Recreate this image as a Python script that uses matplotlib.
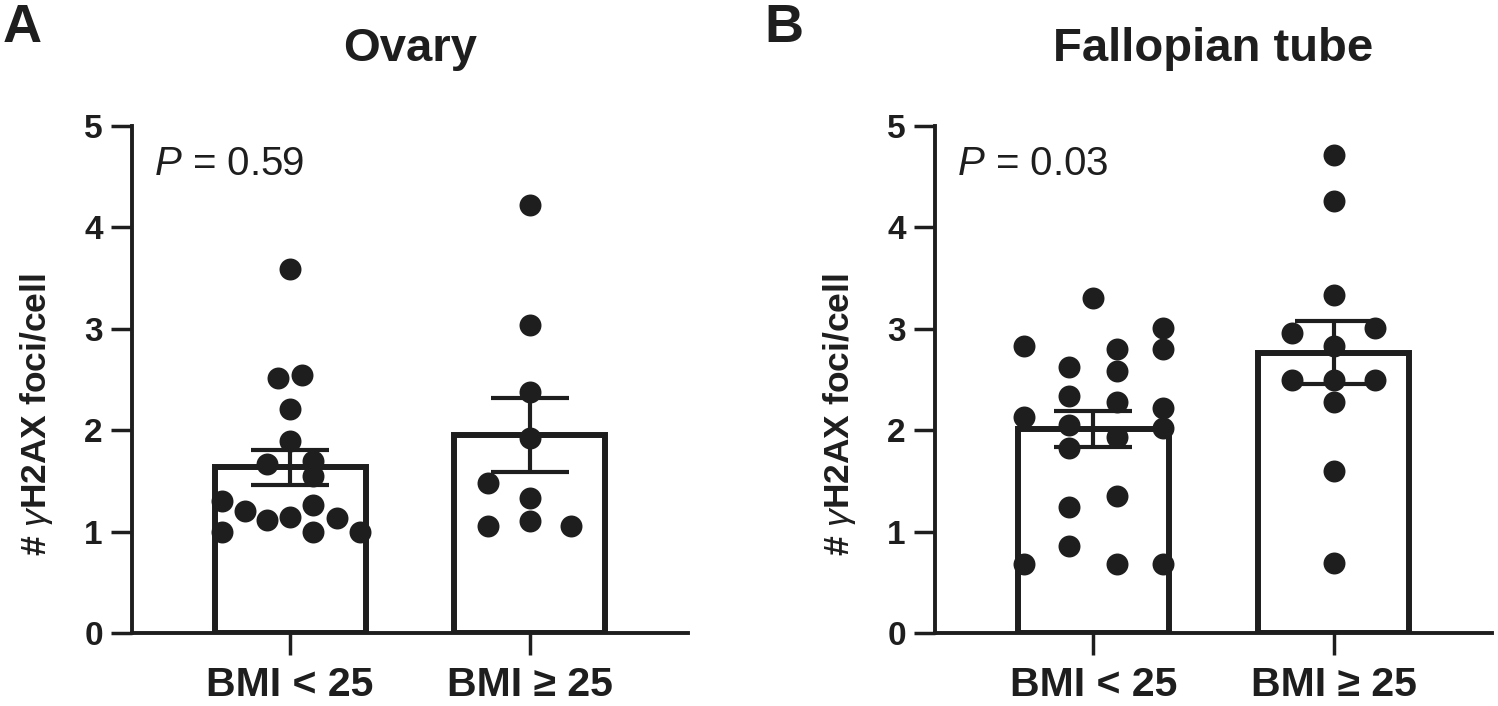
import numpy as np
import matplotlib
matplotlib.use("Agg")
import matplotlib.pyplot as plt
from matplotlib import transforms

plt.rcParams['font.family'] = ['Liberation Sans', 'DejaVu Sans']
plt.rcParams['mathtext.fontset'] = 'custom'
plt.rcParams['mathtext.rm'] = 'Liberation Sans'
plt.rcParams['mathtext.it'] = 'Liberation Sans:italic'
plt.rcParams['mathtext.bf'] = 'Liberation Sans:bold'

# ---------------- data ----------------
categories = ["BMI < 25", "BMI \u2265 25"]
titles = ["Ovary", "Fallopian tube"]
panel_letters = ["A", "B"]
p_values = ["0.59", "0.03"]
y_ticks = [0, 1, 2, 3, 4, 5]
y_label = r"# $\gamma$H2AX foci/cell"

ovary_low = [3.59, 2.51, 2.54, 2.21, 1.89, 1.67, 1.70, 1.55, 1.26,
             1.30, 1.20, 1.11, 1.14, 1.00, 1.13, 1.00, 1.00]
ovary_high = [4.22, 3.04, 2.38, 1.92, 1.48, 1.33, 1.06, 1.10, 1.06]
tube_low = [3.30, 2.83, 2.62, 2.34, 2.05, 1.82, 2.80, 2.58, 2.28, 1.93,
            3.01, 2.80, 2.22, 2.02, 2.13, 1.24, 0.86, 1.35, 0.68, 0.68, 0.68]
tube_high = [4.71, 4.26, 3.33, 2.96, 3.01, 2.83, 2.50, 2.50, 2.50, 2.28, 1.60, 0.69]

# horizontal scatter offsets (fraction of category spacing)
ovary_low_dx = [0, -0.05, 0.05, 0, 0, -0.096, 0.096, 0.096, 0.096,
                -0.283, -0.188, -0.096, 0, 0.096, 0.196, -0.283, 0.29]
ovary_high_dx = [0, 0, 0, 0, -0.175, 0, -0.175, 0, 0.17]
tube_low_dx = [0, -0.288, -0.1, -0.1, -0.1, -0.1, 0.096, 0.096, 0.096, 0.096,
               0.289, 0.289, 0.289, 0.289, -0.288, -0.1, -0.1, 0.096,
               -0.288, 0.096, 0.289]
tube_high_dx = [0, 0, 0, -0.172, 0.172, 0, -0.172, 0, 0.172, 0, 0, 0]

panels = [
    (ovary_low, ovary_high, ovary_low_dx, ovary_high_dx),
    (tube_low, tube_high, tube_low_dx, tube_high_dx),
]

# ---------------- style ----------------
INK = '#1e1e1e'
W, H = 1498, 706
fig = plt.figure(figsize=(W / 100, H / 100), dpi=100)
axes = [
    fig.add_axes([132 / W, 73 / H, 556 / W, 507 / H]),
    fig.add_axes([935 / W, 73 / H, 557 / W, 507 / H]),
]
letter_x = [3 / W, 764 / W]

for i, ax in enumerate(axes):
    low, high, dlow, dhigh = panels[i]
    groups = [np.array(low), np.array(high)]
    offsets = [np.array(dlow), np.array(dhigh)]
    xpos = np.arange(len(categories))
    means = [g.mean() for g in groups]
    sems = [g.std(ddof=1) / np.sqrt(len(g)) for g in groups]

    ax.bar(xpos, means, width=0.63, facecolor='white', edgecolor=INK,
           linewidth=4.3, zorder=1)
    ax.errorbar(xpos, means, yerr=sems, fmt='none', ecolor=INK,
                elinewidth=3, capsize=28, capthick=3, zorder=2)
    for k, (g, dx) in enumerate(zip(groups, offsets)):
        ax.scatter(xpos[k] + dx, g, s=250, color=INK, linewidths=0, zorder=3)

    ax.set_xlim(-0.66, 1.66)
    ax.set_ylim(0, 5)
    ax.set_yticks(y_ticks)
    ax.set_yticklabels([str(t) for t in y_ticks], fontsize=24, fontweight='bold')
    ax.set_xticks(xpos)
    ax.set_xticklabels(categories, fontsize=29.5, fontweight='bold')
    for s in ['top', 'right']:
        ax.spines[s].set_visible(False)
    for s in ['left', 'bottom']:
        ax.spines[s].set_linewidth(2.8)
        ax.spines[s].set_color(INK)
    ax.tick_params(axis='y', length=15, width=2.5, pad=6, colors=INK)
    ax.tick_params(axis='x', length=16, width=2.5, pad=8, colors=INK)

    ax.set_ylabel(y_label, fontsize=25.5, fontweight='bold', color=INK)
    ax.yaxis.set_label_coords(-0.138, 0.43)
    ax.set_title(titles[i], fontsize=34, fontweight='bold', pad=47, color=INK)

    trans = transforms.blended_transform_factory(ax.transAxes, ax.transData)
    ax.text(0.04, 4.52, r"$\it{P}$ = " + p_values[i], transform=trans,
            fontsize=29, va='baseline', ha='left', color=INK)

    fig.text(letter_x[i], 1 - 42 / H, panel_letters[i], fontsize=39,
             fontweight='bold', va='baseline', ha='left', color=INK)

fig.savefig("out.png", dpi=100)
